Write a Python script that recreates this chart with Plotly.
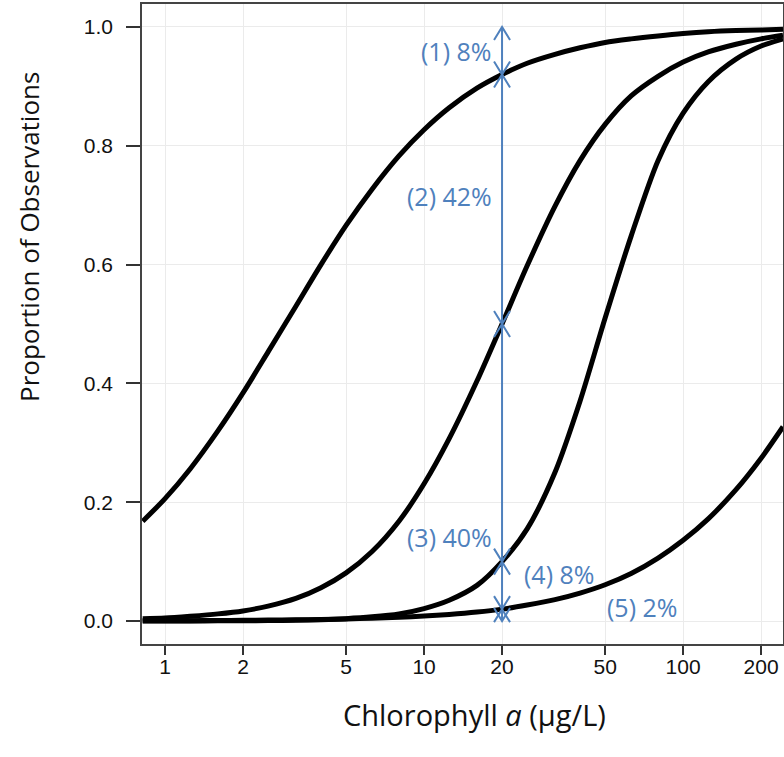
import math
import plotly.graph_objects as go

# ---------------- data ----------------
chl = [0.82, 1, 1.25, 1.6, 2, 2.5, 3.2, 4, 5, 6.3, 8, 10, 12.5, 16, 20, 25, 32, 40, 50,
       63, 80, 100, 125, 160, 200, 243]

curve1 = [0.168, 0.206, 0.256, 0.320, 0.384, 0.453, 0.530, 0.600, 0.666, 0.727, 0.783,
          0.827, 0.864, 0.897, 0.920, 0.939, 0.954, 0.965, 0.974, 0.980, 0.985, 0.989,
          0.992, 0.994, 0.995, 0.996]
curve2 = [0.004, 0.005, 0.008, 0.012, 0.017, 0.025, 0.038, 0.056, 0.081, 0.117, 0.168,
          0.231, 0.307, 0.404, 0.500, 0.598, 0.698, 0.775, 0.836, 0.884, 0.917, 0.941,
          0.958, 0.971, 0.980, 0.986]
curve3 = [0.0, 0.0001, 0.0001, 0.0003, 0.0004, 0.0007, 0.0013, 0.0023, 0.004, 0.007, 0.012,
          0.021, 0.035, 0.060, 0.100, 0.155, 0.250, 0.370, 0.510, 0.648, 0.775, 0.855,
          0.908, 0.946, 0.968, 0.980]
curve4 = [0.0004, 0.0005, 0.0006, 0.0008, 0.0011, 0.0015, 0.002, 0.0027, 0.0035, 0.0047,
          0.0064, 0.0083, 0.011, 0.015, 0.020, 0.027, 0.036, 0.047, 0.061, 0.080, 0.106,
          0.136, 0.172, 0.221, 0.274, 0.327]

x_ticks = [1, 2, 5, 10, 20, 50, 100, 200]
x_tick_labels = ["1", "2", "5", "10", "20", "50", "100", "200"]
y_ticks = [0.0, 0.2, 0.4, 0.6, 0.8, 1.0]
y_tick_labels = ["0.0", "0.2", "0.4", "0.6", "0.8", "1.0"]

marker_chl = 20
arrow_bounds = [1.0, 0.92, 0.50, 0.10, 0.02, 0.0]
class_labels = ["(1) 8%", "(2) 42%", "(3) 40%", "(4) 8%", "(5) 2%"]

# ---------------- style ----------------
BLUE = "#4F81BD"
W, H = 784, 757
ML, MR, MT, MB = 142, 1, 4, 113
x_range = [math.log10(0.815), math.log10(243)]
y_range = [-0.0387, 1.0387]
pw = W - ML - MR
ph = H - MT - MB
px_per_dec = pw / (x_range[1] - x_range[0])
px_per_unit = ph / (y_range[1] - y_range[0])
head_k = 10 ** (8 / px_per_dec)      # arrowhead half width (8 px)
head_dy = 13 / px_per_unit           # arrowhead length (13 px)


def py(pix):
    """paper y coordinate of a pixel row"""
    return (H - MB - pix) / ph


def px(pix):
    return (pix - ML) / pw


fig = go.Figure()

for c in [curve1, curve2, curve3, curve4]:
    fig.add_trace(go.Scatter(x=chl, y=c, mode="lines",
                             line=dict(color="black", width=5, shape="spline", smoothing=0.8),
                             showlegend=False, hoverinfo="skip"))

# vertical arrow line
fig.add_trace(go.Scatter(x=[marker_chl, marker_chl], y=[arrow_bounds[-1], arrow_bounds[0]], mode="lines",
                         line=dict(color=BLUE, width=2), showlegend=False, hoverinfo="skip"))

# arrowheads (double-headed segments)
hx, hy = [], []
for hi, lo in zip(arrow_bounds[:-1], arrow_bounds[1:]):
    hx += [marker_chl / head_k, marker_chl, marker_chl * head_k, None]
    hy += [hi - head_dy, hi, hi - head_dy, None]
    hx += [marker_chl / head_k, marker_chl, marker_chl * head_k, None]
    hy += [lo + head_dy, lo, lo + head_dy, None]
fig.add_trace(go.Scatter(x=hx, y=hy, mode="lines", line=dict(color=BLUE, width=2),
                         showlegend=False, hoverinfo="skip"))

lab_font = dict(family="Open Sans", size=25, color=BLUE)
label_pos = [
    (marker_chl, 0.96, "right", -8),
    (marker_chl, 0.716, "right", -8),
    (marker_chl, 0.141, "right", -8),
    (23.9, 0.079, "left", 0),
    (50, 0.024, "left", 0),
]
for (lx, ly, anc, sh), txt in zip(label_pos, class_labels):
    fig.add_annotation(x=math.log10(lx), y=ly, text=txt, showarrow=False, xanchor=anc, xshift=sh,
                       yanchor="middle", font=lab_font)

# axis titles
fig.add_annotation(xref="paper", yref="paper", x=px(474), y=py(714), text="Chlorophyll <i>a</i> (µg/L)",
                   showarrow=False, xanchor="center", yanchor="middle",
                   font=dict(family="Open Sans", size=29, color="#111"))
fig.add_annotation(xref="paper", yref="paper", x=px(29), y=py(237), text="Proportion of Observations",
                   showarrow=False, xanchor="center", yanchor="middle", textangle=-90,
                   font=dict(family="Open Sans", size=26, color="#111"))

fig.update_layout(
    width=W, height=H,
    margin=dict(l=ML, r=MR, t=MT, b=MB, autoexpand=False),
    plot_bgcolor="white", paper_bgcolor="white",
    showlegend=False,
)
fig.update_xaxes(type="log", range=x_range, tickvals=x_ticks, ticktext=x_tick_labels,
                 automargin=False,
                 showgrid=True, gridcolor="#ebebeb", gridwidth=1, zeroline=False,
                 showline=True, linecolor="#444", linewidth=1.5, mirror=True,
                 ticks="outside", ticklen=9, tickwidth=1.5, tickcolor="#333",
                 ticklabelstandoff=-6,
                 tickfont=dict(family="Liberation Sans", size=21, color="#111"))
fig.update_yaxes(range=y_range, tickvals=y_ticks, ticktext=y_tick_labels,
                 automargin=False,
                 showgrid=True, gridcolor="#ebebeb", gridwidth=1, zeroline=False,
                 showline=True, linecolor="#444", linewidth=1.5, mirror=True,
                 ticks="outside", ticklen=14, tickwidth=1.5, tickcolor="#333",
                 ticklabelstandoff=9,
                 tickfont=dict(family="Liberation Sans", size=21, color="#111"))

fig.write_html("out.html", config={"displayModeBar": False},
               post_script="document.body.style.margin='0';")
